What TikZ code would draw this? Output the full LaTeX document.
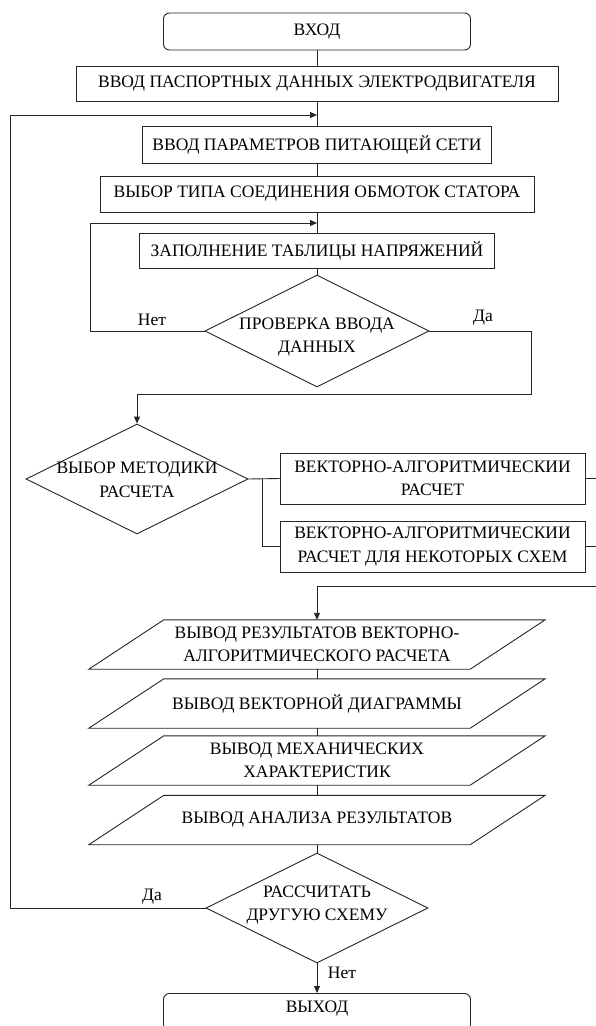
\documentclass[tikz,border=0pt]{standalone}
\usepackage{fontspec}
\setmainfont{Liberation Serif}
\usetikzlibrary{arrows.meta,shapes.geometric,calc}
\begin{document}
\begin{tikzpicture}[x=1pt,y=-1pt,
  every node/.style={font=\fontsize{17.5}{23.5}\selectfont, text=black},
  line/.style={draw=black!85, line width=0.9pt},
  arr/.style={line, -{Triangle[length=7pt,width=6pt]}},
  procbox/.style={line, rectangle, inner sep=0pt, align=center},
  termbox/.style={procbox, rounded corners=6pt},
  decis/.style={line, diamond, inner sep=0pt, minimum width=224pt, minimum height=112pt},
  dtext/.style={inner sep=0pt, align=center},
  iobox/.style={rectangle, inner sep=0pt, align=center, minimum width=381pt, minimum height=49pt},
  lbl/.style={inner sep=0pt}
]
\useasboundingbox (0,0) rectangle (596,1026);
\fill[white] (0,0) rectangle (596,1026);

\node[termbox, minimum width=307pt, minimum height=37pt] (start) at (317,31.5) {ВХОД};
\node[procbox, minimum width=482pt, minimum height=35pt] (b1) at (317,83.5) {ВВОД ПАСПОРТНЫХ ДАННЫХ ЭЛЕКТРОДВИГАТЕЛЯ};
\node[procbox, minimum width=349pt, minimum height=37pt] (b2) at (317,144.5) {ВВОД ПАРАМЕТРОВ ПИТАЮЩЕЙ СЕТИ};
\node[procbox, minimum width=434pt, minimum height=36pt] (b3) at (317,194) {ВЫБОР ТИПА СОЕДИНЕНИЯ ОБМОТОК СТАТОРА};
\node[procbox, minimum width=355pt, minimum height=35pt] (b4) at (317,250.5) {ЗАПОЛНЕНИЕ ТАБЛИЦЫ НАПРЯЖЕНИЙ};
\node[decis] (d1) at (317,331) {};
\node[dtext] (d1t) at (317,337) {ПРОВЕРКА ВВОДА\\ДАННЫХ};
\node[decis, minimum width=222pt, minimum height=110pt] (d2) at (137,479) {};
\node[dtext] (d2t) at (137,480) {ВЫБОР МЕТОДИКИ\\РАСЧЕТА};
\node[procbox, minimum width=305pt, minimum height=51pt] (ma) at (432.5,478.5) {ВЕКТОРНО-АЛГОРИТМИЧЕСКИИ\\РАСЧЕТ};
\node[procbox, minimum width=305pt, minimum height=51pt] (mb) at (432.5,546.5) {ВЕКТОРНО-АЛГОРИТМИЧЕСКИИ\\РАСЧЕТ ДЛЯ НЕКОТОРЫХ СХЕМ};
\node[iobox] (p1) at (317,644.5) {ВЫВОД РЕЗУЛЬТАТОВ ВЕКТОРНО-\\АЛГОРИТМИЧЕСКОГО  РАСЧЕТА};
\node[iobox] (p2) at (317,703.5) {ВЫВОД ВЕКТОРНОЙ ДИАГРАММЫ};
\node[iobox] (p3) at (317,760.5) {ВЫВОД МЕХАНИЧЕСКИХ\\ХАРАКТЕРИСТИК};
\node[iobox] (p4) at (317,820) {ВЫВОД АНАЛИЗА РЕЗУЛЬТАТОВ};
\node[decis, minimum width=222pt, minimum height=110pt] (d3) at (317,908) {};
\node[dtext] (d3t) at (317,905) {РАССЧИТАТЬ\\ДРУГУЮ СХЕМУ};
\node[termbox, minimum width=307pt, minimum height=37pt, anchor=north] (stop) at (317,993) {};
\node[dtext] (stopt) at (317,1009) {ВЫХОД};

\foreach \p in {p1,p2,p3,p4}{
  \draw[line] ($(\p.north west)+(37.5,0)$) -- ($(\p.north east)+(37.5,0)$) -- ($(\p.south east)+(-37.5,0)$) -- ($(\p.south west)+(-37.5,0)$) -- cycle;
}

\coordinate (j1) at (317,115);
\coordinate (la) at (10,115);
\coordinate (j2) at (317,223);
\coordinate (lb) at (90,223);
\coordinate (r1) at (531,394);
\coordinate (br) at (262,479);
\coordinate (ea) at (596,478.5);
\coordinate (eb) at (596,546.5);
\coordinate (rt) at (596,586);

\node[lbl] (no1) at (152,320) {Нет};
\node[lbl] (yes1) at (483,318) {Да};
\node[lbl] (yes2) at (152,897) {Да};
\node[lbl] (no2) at (342,973) {Нет};

\draw[line] (start.south) -- (b1.north);
\draw[line] (b1.south) -- (b2.north);
\draw[line] (b2.south) -- (b3.north);
\draw[line] (b3.south) -- (b4.north);
\draw[line] (b4.south) -- (d1.north);
\draw[arr] (d1.west) -| (lb) -- (j2);
\draw[arr] (d1.east) -| (r1) -| (d2.north);
\draw[line] (d2.east) -- (ma.west);
\draw[line] (br) |- (mb.west);
\draw[line] (ma.east) -- (ea);
\draw[line] (mb.east) -- (eb);
\draw[arr] (rt) -| (p1.north);
\draw[line] (p1.south) -- (p2.north);
\draw[line] (p2.south) -- (p3.north);
\draw[line] (p3.south) -- (p4.north);
\draw[line] (p4.south) -- (d3.north);
\draw[arr] (d3.west) -| (la) -- (j1);
\draw[arr] (d3.south) -- (stop.north);
\end{tikzpicture}
\end{document}
